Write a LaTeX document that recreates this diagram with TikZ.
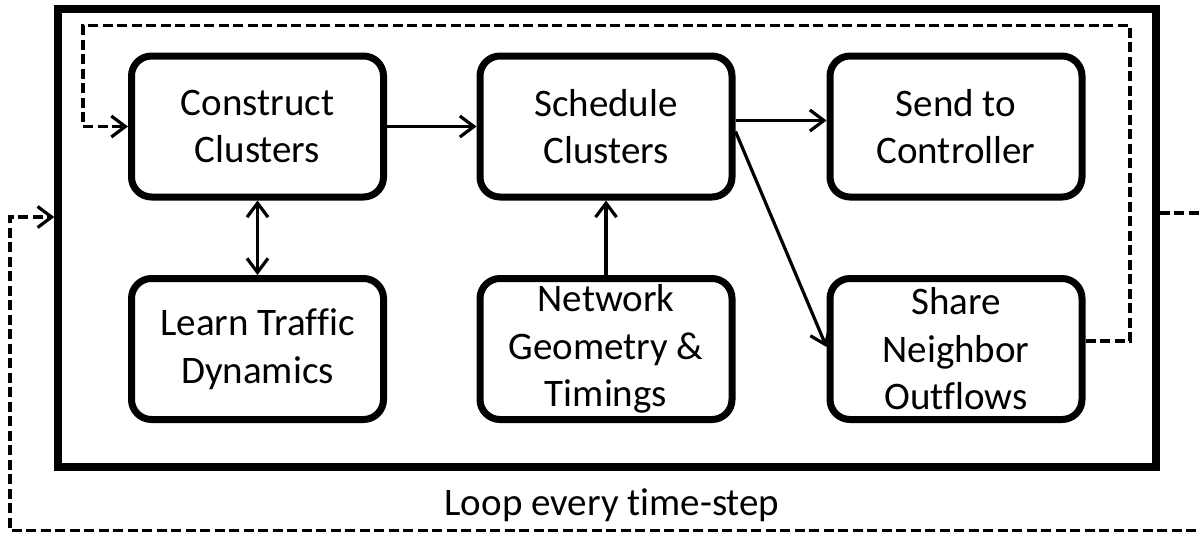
\documentclass[tikz,border=0pt]{standalone}
\usepackage{fontspec}
\setmainfont{Carlito}[Ligatures=NoCommon]
\usetikzlibrary{arrows.meta}

\begin{document}
\begin{tikzpicture}[x=1pt,y=-1pt,
  stage/.style={draw, line width=7pt, rounded corners=20pt,
    minimum width=252pt, minimum height=141pt, inner sep=0pt,
    align=center, font=\fontsize{39}{47.5}\selectfont},
  flow/.style={line width=3.2pt, -{Straight Barb[length=14pt,width=21pt,line width=3.2pt]}},
  bothflow/.style={line width=3.2pt,
    {Straight Barb[length=14pt,width=21pt,line width=3.2pt]}-{Straight Barb[length=14pt,width=21pt,line width=3.2pt]}},
  loopline/.style={line width=4pt, dash pattern=on 10pt off 4.5pt},
]
\clip (0,0) rectangle (1199,533);
\useasboundingbox (0,0) rectangle (1199,533);

% outer frame around one iteration
\node[draw, line width=7.5pt, minimum width=1098pt, minimum height=458pt,
      inner sep=0pt] (frame) at (607,238) {};

% processing stages
\node[stage] (construct) at (257.5,126.5) {Construct\\Clusters};
\node[stage] (schedule)  at (606,126.5)   {Schedule\\Clusters};
\node[stage] (send)      at (956,126.5)   {Send to\\Controller};
\node[stage] (learn)     at (257.5,349)   {Learn Traffic\\Dynamics};
\node[stage] (network)   at (606,349)     {Network\\Geometry \&\\Timings};
\node[stage] (share)     at (956,349)     {Share\\Neighbor\\Outflows};

% data flow between stages
\draw[flow] (construct.east) -- (schedule.west);
\draw[flow] ([yshift=6pt]schedule.east) -- ([yshift=6pt]send.west);
\draw[flow] ([yshift=-5pt]schedule.east) -- ([yshift=2pt]share.west);
\draw[bothflow] (construct.south) -- (learn.north);
\draw[flow] (network.north) -- (schedule.south);

% feedback of neighbour outflows into cluster construction
\coordinate (fbR) at (1130,25.5);
\coordinate (fbL) at (83,25.5);
\draw[loopline, flow] ([yshift=8pt]share.east) -| (fbR) -- (fbL) |- (construct.west);

% outer time-step loop
\coordinate (lpE) at (1215,530.5);
\coordinate (lpW) at (10,530.5);
\draw[loopline, flow] ([yshift=25pt]frame.east) -| (lpE) -- (lpW) |- ([yshift=21pt]frame.west);

\node[anchor=base, font=\fontsize{39}{47.5}\selectfont, inner sep=0pt]
  (looplabel) at (612,515) {Loop every time-step};
\end{tikzpicture}
\end{document}
